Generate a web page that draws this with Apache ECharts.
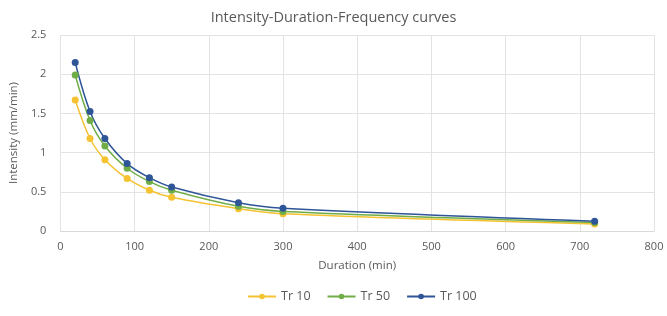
<!DOCTYPE html>
<html><head><meta charset="utf-8">
<script src="https://cdn.jsdelivr.net/npm/echarts@6/dist/echarts.min.js"></script>
<style>html,body{margin:0;padding:0;background:#fff}#c{width:667px;height:316px}</style>
</head><body><div id="c"></div>
<script>
const durations = [20, 40, 60, 90, 120, 150, 240, 300, 720];
const tr10 = [1.67, 1.18, 0.91, 0.67, 0.52, 0.43, 0.285, 0.22, 0.09];
const tr50 = [1.99, 1.41, 1.085, 0.80, 0.63, 0.52, 0.315, 0.25, 0.11];
const tr100 = [2.15, 1.525, 1.18, 0.86, 0.68, 0.56, 0.36, 0.29, 0.124];
const seriesNames = ['Tr 10', 'Tr 50', 'Tr 100'];
const colors = ['#F5C232', '#70AD47', '#2E5597'];
const font = 'Open Sans';
const chart = echarts.init(document.getElementById('c'));
function mk(name, vals, col) {
  return {
    name: name, type: 'line', smooth: 0.35,
    data: durations.map((d, i) => [d, vals[i]]),
    symbol: 'circle', symbolSize: 7,
    itemStyle: { color: col },
    lineStyle: { color: col, width: 1.5 }
  };
}
chart.setOption({
  animation: false,
  textStyle: { fontFamily: font },
  title: { text: 'Intensity-Duration-Frequency curves', left: 'center', top: 5,
    textStyle: { fontSize: 14.5, fontWeight: 'normal', color: '#595959', fontFamily: font } },
  legend: { bottom: 8, left: 242, itemWidth: 28, itemHeight: 7, itemGap: 16,
    textStyle: { fontSize: 12.5, color: '#595959' },
    data: seriesNames },
  grid: { left: 60, right: 13, top: 35, bottom: 85 },
  xAxis: { type: 'value', min: 0, max: 800, interval: 100,
    name: 'Duration (min)', nameLocation: 'middle', nameGap: 29,
    nameTextStyle: { fontSize: 11.5, color: '#595959' },
    axisLine: { show: true, lineStyle: { color: '#d9d9d9' } },
    axisTick: { show: false },
    axisLabel: { fontSize: 11, color: '#595959', margin: 10 },
    splitLine: { show: true, lineStyle: { color: '#e3e3e3' } } },
  yAxis: { type: 'value', min: 0, max: 2.5, interval: 0.5,
    name: 'Intensity (mm/min)', nameLocation: 'middle', nameGap: 36, nameRotate: 90,
    nameTextStyle: { fontSize: 11.5, color: '#595959' },
    axisLine: { show: false }, axisTick: { show: false },
    axisLabel: { fontSize: 11, color: '#595959', margin: 14 },
    splitLine: { show: true, lineStyle: { color: '#e3e3e3' } } },
  series: [mk(seriesNames[0], tr10, colors[0]), mk(seriesNames[1], tr50, colors[1]), mk(seriesNames[2], tr100, colors[2])]
});
</script></body></html>
